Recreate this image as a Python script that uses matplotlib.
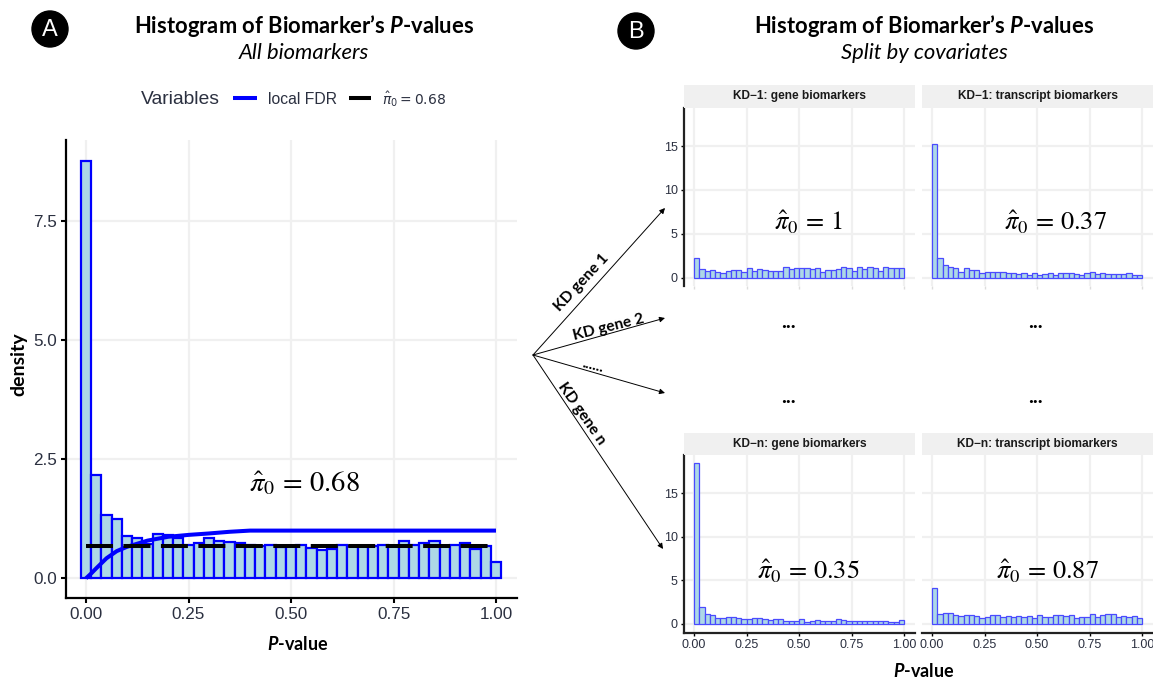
import numpy as np
import matplotlib
matplotlib.use("Agg")
import matplotlib.pyplot as plt
from matplotlib.patches import Circle, Rectangle

plt.rcParams['font.family'] = ['Liberation Sans', 'DejaVu Sans']
plt.rcParams['mathtext.fontset'] = 'custom'
plt.rcParams['mathtext.bfit'] = 'Lato:italic:bold'
plt.rcParams['mathtext.it'] = 'Lato:italic'
plt.rcParams['mathtext.rm'] = 'Lato'

# panel A, bins centred on 0, 0.025, ... 1
all_heights = [8.75, 2.17, 1.32, 1.24, 0.89, 0.85, 0.72, 0.92, 0.91, 0.84, 0.70,
               0.75, 0.85, 0.79, 0.76, 0.73, 0.70, 0.68, 0.70, 0.66, 0.68, 0.70,
               0.64, 0.59, 0.62, 0.70, 0.67, 0.67, 0.67, 0.70, 0.67, 0.78, 0.70,
               0.75, 0.78, 0.67, 0.70, 0.75, 0.61, 0.68, 0.35]
fdr_p = [0, 0.0125, 0.025, 0.05, 0.075, 0.1, 0.15, 0.2, 0.25, 0.3, 0.35, 0.4, 1.0]
fdr_val = [0, 0.1, 0.21, 0.42, 0.57, 0.66, 0.79, 0.87, 0.91, 0.94, 0.975, 1.0, 1.0]
pi0_all = 0.68

# panel B, 40 bins from 0 to 1
kd1_gene = [2.24, 0.95, 0.8, 0.9, 0.68, 0.55, 0.8, 0.9, 0.83, 0.7, 1.14, 0.8, 1.02,
            0.9, 0.8, 0.8, 0.8, 1.25, 0.95, 1.05, 1.05, 1.05, 0.95, 1.05, 0.7, 0.9,
            0.9, 0.95, 1.2, 1.05, 0.8, 1.2, 0.95, 1.2, 1.15, 0.8, 1.2, 1.05, 1.05, 1.15]
kd1_transcript = [15.2, 2.3, 1.5, 1.2, 1.05, 0.6, 1.05, 0.9, 0.9, 0.55, 0.6, 0.7, 0.68,
                  0.7, 0.55, 0.55, 0.42, 0.48, 0.35, 0.55, 0.3, 0.42, 0.55, 0.3, 0.55,
                  0.55, 0.48, 0.42, 0.35, 0.48, 0.65, 0.45, 0.55, 0.38, 0.42, 0.42,
                  0.42, 0.55, 0.3, 0.27]
kdn_gene = [18.4, 1.95, 1.2, 1.05, 0.68, 0.65, 0.78, 0.78, 0.68, 0.62, 0.62, 0.65, 0.68,
            0.55, 0.42, 0.52, 0.52, 0.4, 0.4, 0.4, 0.6, 0.28, 0.33, 0.5, 0.3, 0.4, 0.4,
            0.55, 0.42, 0.33, 0.4, 0.4, 0.4, 0.4, 0.4, 0.38, 0.3, 0.25, 0.25, 0.48]
kdn_transcript = [4.15, 1.2, 1.3, 1.3, 1.08, 0.95, 0.98, 0.98, 0.95, 0.7, 0.82, 0.98,
                  1.08, 0.85, 0.95, 0.85, 0.97, 0.85, 0.97, 0.65, 1.08, 0.75, 0.75,
                  0.98, 1.08, 0.9, 1.0, 0.68, 0.78, 0.78, 1.2, 0.82, 0.98, 1.2, 1.12,
                  0.85, 0.95, 0.85, 0.97, 0.72]

x_ticks = [0, 0.25, 0.5, 0.75, 1.0]
x_labels = ["0.00", "0.25", "0.50", "0.75", "1.00"]
grid_col = "#f0f0f0"
tick_col = "#2b3040"
W, H = 1153, 680


def make_axes(fig, left, right, top, bottom, x0, x1, y0, y_px):
    # box and scale are in figure pixels, x0/x1 = px of p=0/p=1, y_px = px per y unit
    ax = fig.add_axes([left / W, 1 - bottom / H, (right - left) / W, (bottom - top) / H])
    ppu = x1 - x0
    ax.set_xlim((left - x0) / ppu, (right - x0) / ppu)
    ax.set_ylim((y0 - bottom) / y_px, (y0 - top) / y_px)
    ax.set_axisbelow(True)
    ax.grid(True, color=grid_col, lw=1.6)
    for s in ['top', 'right', 'left', 'bottom']:
        ax.spines[s].set_visible(False)
    ax.set_xticks(x_ticks)
    ax.set_xticklabels(x_labels)
    return ax


fig = plt.figure(figsize=(W / 100, H / 100), dpi=100)

# panel A
ax = make_axes(fig, 66, 517, 140, 598, 86, 496, 578.3, 47.7)
bins_a = np.arange(len(all_heights)) * 0.025
ax.bar(bins_a, all_heights, width=0.025, color="#add8e6", edgecolor="#0000ff", linewidth=1.6)
ax.plot(fdr_p, fdr_val, color="#0000ff", lw=2.9, solid_capstyle='butt')
ax.plot([0, 1], [pi0_all, pi0_all], color="black", lw=2.9, dashes=(6.7, 2.6), dash_capstyle='butt')
ax.set_yticks([0, 2.5, 5, 7.5])
ax.set_yticklabels(["0.0", "2.5", "5.0", "7.5"])
ax.spines['left'].set_visible(True)
ax.spines['bottom'].set_visible(True)
ax.spines['left'].set_linewidth(1.6)
ax.spines['bottom'].set_linewidth(1.6)
ax.tick_params(length=3.5, width=1.5, labelsize=12.3, labelcolor=tick_col, pad=3)

# panel B
small = [
    (kd1_gene, "KD\u22121: gene biomarkers", 684, 915, 694, 904, 85, 108, 286, 277.7, 8.78),
    (kd1_transcript, "KD\u22121: transcript biomarkers", 922, 1153, 932, 1142, 85, 108, 286, 277.7, 8.78),
    (kdn_gene, "KD\u2212n: gene biomarkers", 684, 915, 694, 904, 433, 455, 632.5, 624, 8.73),
    (kdn_transcript, "KD\u2212n: transcript biomarkers", 922, 1153, 932, 1142, 433, 455, 632.5, 624, 8.73),
]
for i, (vals, name, l, r, x0, x1, s_top, t, b, y0, y_px) in enumerate(small):
    ax = make_axes(fig, l, r, t, b, x0, x1, y0, y_px)
    ax.bar(np.arange(40) * 0.025 + 0.0125, vals, width=0.025, color="#add8e6",
           edgecolor="#4a4aff", linewidth=0.9)
    ax.set_yticks([0, 5, 10, 15])
    ax.tick_params(length=2.5, width=1, labelsize=9, labelcolor=tick_col, pad=2)
    if i % 2 == 0:
        ax.spines['left'].set_visible(True)
        ax.spines['left'].set_linewidth(1.6)
        ax.spines['left'].set_color("#222222")
    else:
        ax.tick_params(axis='y', length=0, labelleft=False)
    if i >= 2:
        ax.spines['bottom'].set_visible(True)
        ax.spines['bottom'].set_linewidth(1.6)
        ax.spines['bottom'].set_color("#222222")
    else:
        ax.tick_params(axis='x', length=2, color="#dddddd", labelbottom=False)
    # facet strip
    fig.add_artist(Rectangle((l / W, 1 - t / H), (r - l) / W, (t - s_top) / H,
                             transform=fig.transFigure, facecolor="#f0f0f0", edgecolor="none"))
    fig.text((l + r) / 2 / W, 1 - (s_top + t) / 2 / H, name, fontsize=8.6, fontweight='bold',
             color="#1a1a1a", ha='center', va='center')

# overlay in figure pixels for the annotation layer
over = fig.add_axes([0, 0, 1, 1], zorder=10)
over.set_xlim(0, W)
over.set_ylim(H, 0)
over.axis('off')
over.patch.set_alpha(0)

lato = ['Lato', 'DejaVu Sans']
for cx, cy, letter in [(50, 29, "A"), (636, 31, "B")]:
    over.add_patch(Circle((cx, cy), 18, color="black"))
    over.text(cx, cy + 0.5, letter, color="white", fontsize=17, ha='center', va='center')

over.text(304, 26, r"Histogram of Biomarker’s $\mathbfit{P}$-values", family=lato, fontweight='bold',
          fontsize=15.8, ha='center', va='center', color="black")
over.text(304, 53, "All biomarkers", family=lato, style='italic', fontsize=15.8, ha='center', va='center')
over.text(924, 26, r"Histogram of Biomarker’s $\mathbfit{P}$-values", family=lato, fontweight='bold',
          fontsize=15.8, ha='center', va='center', color="black")
over.text(924, 53, "Split by covariates", family=lato, style='italic', fontsize=15.8, ha='center', va='center')

# legend of panel A
over.text(141, 99.5, "Variables", fontsize=13.9, color=tick_col, va='center')
over.plot([233, 257], [98, 98], color="#0000ff", lw=2.9, solid_capstyle='butt')
over.text(268, 99, "local FDR", fontsize=11.3, color=tick_col, va='center')
over.plot([349, 371], [98, 98], color="black", lw=2.9, solid_capstyle='butt')
over.text(382, 99, r"$\hat{\pi}_0 = 0.68$", fontsize=10, color=tick_col, va='center', math_fontfamily='dejavusans')

# axis titles
over.text(19, 364, "density", family=lato, fontweight='bold', fontsize=14, rotation=90, ha='center', va='center')
over.text(298, 644, r"$\mathbfit{P}$-value", family=lato, fontweight='bold', fontsize=13, ha='center', va='center')
over.text(924, 671, r"$\mathbfit{P}$-value", family=lato, fontweight='bold', fontsize=13, ha='center', va='center')

# pi0 estimates
for x, y, lab, size in [(304, 484, "0.68", 20.5), (808, 222, "1", 19), (1056, 222, "0.37", 19),
                        (808, 571, "0.35", 19), (1048, 571, "0.87", 19)]:
    over.text(x, y, r"$\hat{\pi}_0\,=\,%s$" % lab, fontsize=size, ha='center', va='center', math_fontfamily='stix')

for x, y in [(788, 322), (1035, 322), (788, 397), (1035, 397)]:
    over.text(x, y, "...", family=lato, fontweight='bold', fontsize=15, ha='center', va='center')

# arrows for the KD genes
for end in [(665, 208), (665, 318), (665, 393), (663, 549)]:
    over.annotate("", xy=end, xytext=(533, 355),
                  arrowprops=dict(arrowstyle="-|>", color="black", lw=0.7, mutation_scale=8, shrinkA=0, shrinkB=0))
for x, y, lab, ang in [(582, 283, "KD gene 1", 47), (609, 327, "KD gene 2", 14),
                       (593, 366, "......", -14), (582, 414, "KD gene n", -55)]:
    over.text(x, y, lab, family=lato, fontweight='bold', fontsize=11.2, rotation=ang,
              rotation_mode='anchor', ha='center', va='center')

fig.savefig("out.png", dpi=100)
